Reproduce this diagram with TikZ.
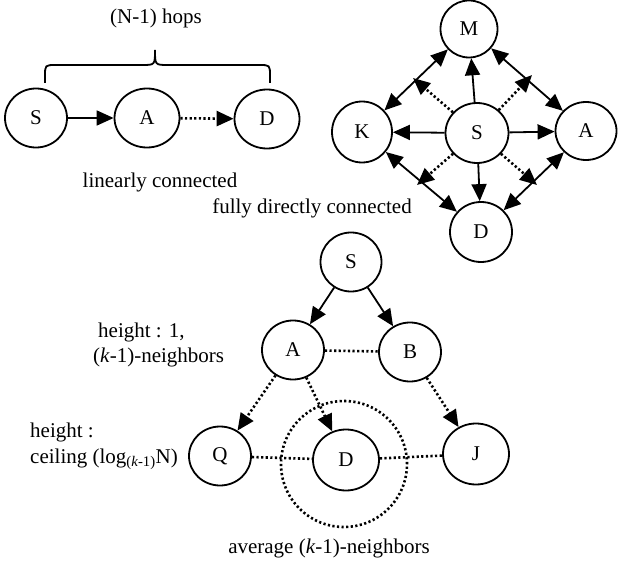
\documentclass[tikz,border=0pt]{standalone}
\usepackage{fontspec}
\setmainfont{Liberation Serif}
\usetikzlibrary{arrows.meta,shapes.geometric}

\begin{document}
\begin{tikzpicture}[x=1pt,y=-1pt,
  every node/.style={font=\fontsize{21}{25}\selectfont},
  nd/.style={draw, ellipse, line width=1.8pt, minimum width=62pt, minimum height=59pt, inner sep=0pt},
  solidline/.style={line width=1.8pt},
  dotline/.style={line width=2.6pt, dash pattern=on 2.2pt off 2.4pt},
  headtip/.style={-{Triangle[length=17pt,width=15pt]}},
  bothtips/.style={{Triangle[length=17pt,width=15pt]}-{Triangle[length=17pt,width=15pt]}},
  label/.style={inner sep=0pt}
]
\useasboundingbox (0,0) rectangle (618,564);

% ---------- linear chain ----------
\node[nd] (lS) at (36,118) {S};
\node[nd, minimum width=65pt] (lA) at (147,118) {A};
\node[nd, minimum width=65pt] (lD) at (267,119) {D};
\draw[solidline, headtip] (lS) -- (lA);
\draw[dotline, headtip] (lA) -- (lD);
% brace over the chain
\draw[line width=1.8pt] (45,83) -- (45,76) .. controls (45,65) .. (56,65) -- (142,65)
  .. controls (155,65) .. (155,50) .. controls (155,65) .. (168,65) -- (259,65)
  .. controls (270,65) .. (270,76) -- (270,83);
\node[label] (hops) at (156,18) {(N-1) hops};
\node[label] (lin) at (160,182) {linearly connected};

% ---------- full mesh ----------
\node[nd, minimum width=57pt, minimum height=57pt] (tM) at (469,29) {M};
\node[nd, minimum width=60pt, minimum height=61pt] (tK) at (362,132) {K};
\node[nd, minimum width=63pt, minimum height=60pt] (tS) at (477,133) {S};
\node[nd, minimum width=61pt, minimum height=58pt] (tA) at (586,131) {A};
\node[nd, minimum width=62pt, minimum height=60pt] (tD) at (481,232) {D};
\draw[solidline, headtip] (tS) -- (tM);
\draw[solidline, headtip] (tS) -- (tK);
\draw[solidline, headtip] (tS) -- (tA);
\draw[solidline, headtip] (tS) -- (tD);
\draw[solidline, bothtips] (tM) -- (tK);
\draw[solidline, bothtips] (tM) -- (tA);
\draw[solidline, bothtips] (tK) -- (tD);
\draw[solidline, bothtips] (tA) -- (tD);
\coordinate (dUL) at (413,78);
\coordinate (dUR) at (532,75);
\coordinate (dDL) at (417,185);
\coordinate (dDR) at (537,185);
\draw[dotline, headtip] (tS) -- (dUL);
\draw[dotline, headtip] (tS) -- (dUR);
\draw[dotline, headtip] (tS) -- (dDL);
\draw[dotline, headtip] (tS) -- (dDR);
\node[label] (full) at (312,208) {fully directly connected};

% ---------- tree ----------
\node[nd, minimum width=61pt, minimum height=59pt] (bS) at (351,262) {S};
\node[nd] (bA) at (293,350) {A};
\node[nd] (bB) at (410,352) {B};
\node[nd] (bQ) at (220,456) {Q};
\node[nd, minimum width=66pt, minimum height=61pt] (bD) at (346,460) {D};
\node[nd, minimum width=66pt, minimum height=61pt] (bJ) at (476,454) {J};
\node[draw, circle, dotline, minimum size=126pt, inner sep=0pt] (ring) at (344,464) {};
\draw[solidline, headtip] (bS) -- (bA);
\draw[solidline, headtip] (bS) -- (bB);
\draw[dotline] (bA) -- (bB);
\draw[dotline, headtip] (bA) -- (bQ);
\draw[dotline, headtip] (bA) -- (bD);
\draw[dotline, headtip] (bB) -- (bJ);
\draw[dotline] (bQ) -- (bD);
\draw[dotline] (bD) -- (bJ);

\node[label, anchor=west] (h1) at (98,332) {height : 1,};
\node[label, anchor=west] (h1b) at (93,357) {(\textit{k}-1)-neighbors};
\node[label, anchor=west] (h2) at (30,432) {height :};
\node[label, anchor=west] (h2b) at (30,459) {ceiling (log\textsubscript{(\textit{k}-1)}N)};
\node[label] (avg) at (329,548) {average (\textit{k}-1)-neighbors};
\end{tikzpicture}
\end{document}
